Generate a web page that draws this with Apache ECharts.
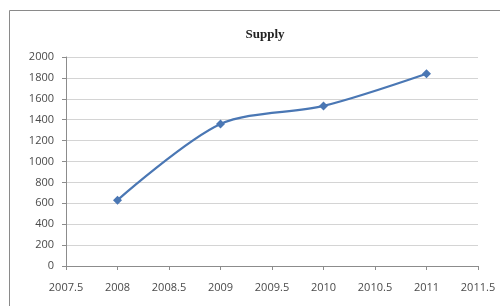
<!DOCTYPE html>
<html><head><meta charset="utf-8">
<script src="https://cdn.jsdelivr.net/npm/echarts@6/dist/echarts.min.js"></script>
<style>html,body{margin:0;padding:0;background:#fff}#c{width:500px;height:306px}</style>
</head><body><div id="c"></div>
<script>
const years = [2008, 2009, 2010, 2011];
const supply = [630, 1358, 1532, 1840];
const titleText = 'Supply';

const chart = echarts.init(document.getElementById('c'), null, {renderer: 'canvas'});
chart.setOption({
  animation: false,
  backgroundColor: '#fff',
  title: {text: titleText, left: 260, top: 23, textAlign: 'center',
    textStyle: {fontFamily: 'Liberation Serif', fontWeight: 'bold', fontSize: 13, color: '#222'}},
  graphic: [{type: 'rect', shape: {x: 9.5, y: 10.5, width: 520, height: 320},
    style: {fill: 'none', stroke: '#8a8a8a', lineWidth: 1}, z: 0}],
  grid: {left: 66, right: 22, top: 57, bottom: 40},
  xAxis: {type: 'value', min: 2007.5, max: 2011.5, interval: 0.5,
    axisLine: {show: true, lineStyle: {color: '#8c8c8c'}},
    axisTick: {show: true, length: 4, lineStyle: {color: '#8c8c8c'}},
    splitLine: {show: false},
    axisLabel: {margin: 16, color: '#4a4a4a', fontSize: 11, fontFamily: 'Open Sans',
      formatter: v => String(v)}},
  yAxis: {type: 'value', min: 0, max: 2000, interval: 200,
    axisLine: {show: true, lineStyle: {color: '#8c8c8c'}},
    axisTick: {show: true, length: 4, lineStyle: {color: '#8c8c8c'}},
    splitLine: {show: true, lineStyle: {color: '#d4d4d4', width: 1.2}},
    axisLabel: {margin: 12, color: '#4a4a4a', fontSize: 11, fontFamily: 'Open Sans',
      formatter: v => String(v)}},
  series: [{type: 'line', data: years.map((y, i) => [y, supply[i]]),
    smooth: 0.3, symbol: 'diamond', symbolSize: 9,
    lineStyle: {color: '#4a77b4', width: 2.2},
    itemStyle: {color: '#4a77b4'}}]
});
</script></body></html>
